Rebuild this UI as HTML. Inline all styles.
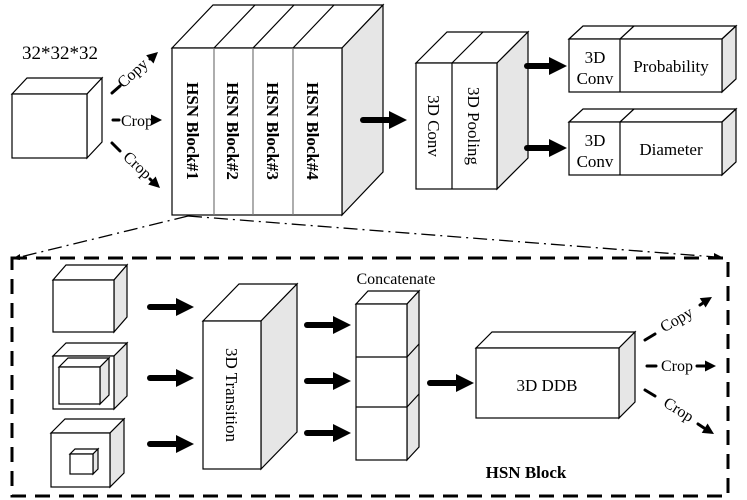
<!DOCTYPE html>
<html><head><meta charset="utf-8"><style>body{margin:0;background:#fff}svg{display:block}</style></head><body>
<svg width="747" height="500" viewBox="0 0 747 500" xmlns="http://www.w3.org/2000/svg" font-family="Liberation Serif, serif">
<defs>
<g id="big"><path d="M0,0H32" stroke="#000" stroke-width="6" stroke-linecap="round"/><path d="M26,-9L44,0L26,9z" fill="#000"/></g>
<g id="bigs"><path d="M0,0H26" stroke="#000" stroke-width="6" stroke-linecap="round"/><path d="M22,-9L40,0L22,9z" fill="#000"/></g>
<path id="sh" d="M-11,-5.5L0,0L-11,5.5z" fill="#000"/>
</defs>
<g stroke="#000" stroke-width="1.2" fill="#fff">
<path d="M12,94L27,78L102,78L87,94z"/><path d="M87,94L102,78L102,142L87,158z"/><rect x="12" y="94" width="75" height="64"/>
<path d="M172,48L213,5L383,5L342,48z"/><path d="M342,48L383,5L383,172L342,215z" fill="#e6e6e6"/>
<rect x="172" y="48" width="170" height="167"/>
<path d="M214,48V215M253,48V215M293,48V215" stroke="#777"/>
<path d="M214,48L255,5M253,48L294,5M293,48L334,5"/>
<path d="M416,63L447,32L528,32L497,63z"/><path d="M497,63L528,32L528,158L497,189z" fill="#e6e6e6"/>
<rect x="416" y="63" width="81" height="126"/><path d="M452,63V189M452,63L483,32"/>
<path d="M569,39L583,26L736,26L722,39z"/><path d="M722,39L736,26L736,79L722,92z" fill="#e6e6e6"/>
<rect x="569" y="39" width="153" height="53"/><path d="M620,39V92M620,39L634,26"/>
<path d="M569,122L583,109L736,109L722,122z"/><path d="M722,122L736,109L736,162L722,175z" fill="#e6e6e6"/>
<rect x="569" y="122" width="153" height="53"/><path d="M620,122V175M620,122L634,109"/>
<path d="M53,280L66,265L127,265L114,280z"/><path d="M114,280L127,265L127,317L114,332z" fill="#e6e6e6"/><rect x="53" y="280" width="61" height="52"/>
<path d="M53,356L66,343L127,343L114,356z"/><path d="M114,356L127,343L127,396L114,409z" fill="#e6e6e6"/><rect x="53" y="356" width="61" height="53"/>
<path d="M59,367L68,358L109,358L100,367z"/><path d="M100,367L109,358L109,395L100,404z" fill="#e6e6e6"/><rect x="59" y="367" width="41" height="37"/>
<path d="M51,433L65,419L124,419L110,433z"/><path d="M110,433L124,419L124,473L110,487z" fill="#e6e6e6"/><rect x="51" y="433" width="59" height="54"/>
<path d="M70,454L75,449L98,449L93,454z"/><path d="M93,454L98,449L98,469L93,474z" fill="#e6e6e6"/><rect x="70" y="454" width="23" height="20"/>
<path d="M203,321L239,284L297,284L261,321z"/><path d="M261,321L297,284L297,432L261,469z" fill="#e6e6e6"/><rect x="203" y="321" width="58" height="148"/>
<path d="M356,304L368,291L419,291L407,304z"/><path d="M407,304L419,291L419,447L407,460z" fill="#e6e6e6"/>
<rect x="356" y="304" width="51" height="156"/><path d="M356,357H407M356,407H407M407,357L419,344M407,407L419,394"/>
<path d="M476,348L492,332L635,332L619,348z"/><path d="M619,348L635,332L635,402L619,418z" fill="#e6e6e6"/><rect x="476" y="348" width="143" height="70"/>
</g>
<rect x="12" y="258" width="716" height="238" fill="none" stroke="#000" stroke-width="3" stroke-dasharray="15,9"/>
<g stroke="#000" stroke-width="1.3" fill="none" stroke-dasharray="14,5,2,5">
<path d="M188,216L16,258"/><path d="M188,216L716,257"/>
</g>
<path d="M12,259l8,-5l0,6z M722,257l-8,-4l0,6z" fill="#000"/>
<use href="#big" x="363" y="120"/>
<use href="#bigs" x="527" y="66"/><use href="#bigs" x="527" y="148"/>
<use href="#big" x="150" y="307"/><use href="#big" x="150" y="378"/><use href="#big" x="150" y="444"/>
<use href="#big" x="307" y="325"/><use href="#big" x="307" y="381"/><use href="#big" x="307" y="433"/>
<use href="#big" x="430" y="383"/>
<g stroke="#000" stroke-width="3" fill="none" stroke-linecap="round">
<path d="M112,93L120,86"/><path d="M150,59L152,57"/>
<path d="M113,120H119"/><path d="M154,120H154"/>
<path d="M112,143L120,151"/><path d="M150,179L152,181"/>
<path d="M645,340L655,334"/><path d="M700,305L703,303"/>
<path d="M647,366H656"/><path d="M697,366H706"/>
<path d="M645,390L655,396"/><path d="M698,424L704,428"/>
</g>
<use href="#sh" transform="translate(158,52) rotate(-42)"/>
<use href="#sh" transform="translate(162,120)"/>
<use href="#sh" transform="translate(160,188) rotate(43)"/>
<use href="#sh" transform="translate(712,297) rotate(-32)"/>
<use href="#sh" transform="translate(716,366)"/>
<use href="#sh" transform="translate(714,434) rotate(32)"/>
<g font-size="16" fill="#000" text-anchor="middle">
<text transform="translate(136,77) rotate(-42)">Copy</text>
<text x="137" y="126">Crop</text>
<text transform="translate(134,169) rotate(43)">Crop</text>
<text transform="translate(679,324) rotate(-30)">Copy</text>
<text x="677" y="371">Crop</text>
<text transform="translate(676,414) rotate(32)">Crop</text>
</g>
<g fill="#000">
<text x="60" y="59" font-size="19" text-anchor="middle">32*32*32</text>
<g font-size="17" font-weight="bold">
<text transform="translate(187,131) rotate(90)" text-anchor="middle">HSN Block#1</text>
<text transform="translate(227,131) rotate(90)" text-anchor="middle">HSN Block#2</text>
<text transform="translate(267,131) rotate(90)" text-anchor="middle">HSN Block#3</text>
<text transform="translate(307,131) rotate(90)" text-anchor="middle">HSN Block#4</text>
</g>
<g font-size="17" text-anchor="middle">
<text transform="translate(428,126) rotate(90)">3D Conv</text>
<text transform="translate(468,126) rotate(90)">3D Pooling</text>
<text x="595" y="63">3D</text><text x="595" y="84">Conv</text>
<text x="671" y="72">Probability</text>
<text x="595" y="146">3D</text><text x="595" y="167">Conv</text>
<text x="671" y="155">Diameter</text>
<text transform="translate(226,395) rotate(90)">3D Transition</text>
<text x="547" y="391">3D DDB</text>
<text x="396" y="284" font-size="16">Concatenate</text>
<text x="526" y="478" font-size="17" font-weight="bold">HSN Block</text>
</g>
</g>
</svg>
</body></html>
